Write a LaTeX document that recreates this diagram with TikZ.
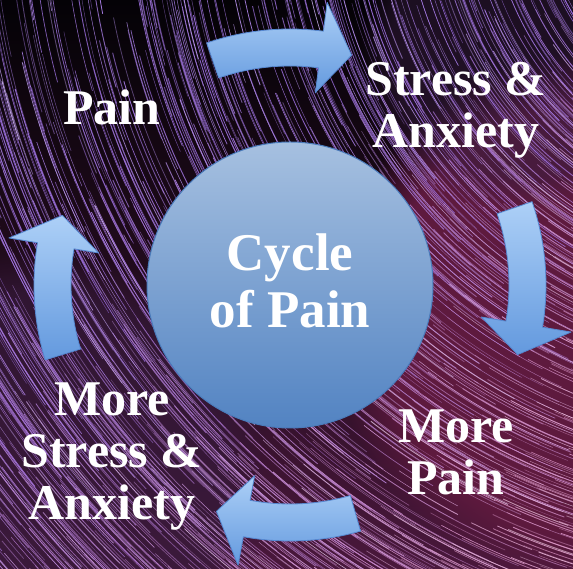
\documentclass[tikz,border=0pt]{standalone}
\usepackage{fontspec}
\setmainfont{Liberation Serif}
\usetikzlibrary{fadings}
\definecolor{violS}{HTML}{9466D6}
\definecolor{pinkS}{HTML}{D488BC}
\definecolor{bgTop}{HTML}{040206}
\definecolor{bgBot}{HTML}{4A183C}
\definecolor{glowM}{HTML}{5E1A3E}
\definecolor{arrT}{HTML}{ADD0F7}
\definecolor{arrB}{HTML}{6399DE}
\definecolor{arrE}{HTML}{5587D0}
\definecolor{cirT}{HTML}{A6C0E0}
\definecolor{cirB}{HTML}{5283C2}
\definecolor{cirE}{HTML}{4A7BBB}
\tikzset{
  lbl/.style={text=white, font=\bfseries\fontsize{50pt}{52pt}\selectfont, align=center, inner sep=0pt},
  cyctext/.style={text=white, font=\bfseries\fontsize{53pt}{57pt}\selectfont, align=center, inner sep=0pt},
  cycarrow/.style={top color=arrT, bottom color=arrB, draw=arrE, line width=0.8pt, line join=round},
  hub/.style={circle, minimum size=286pt, inner sep=0pt, top color=cirT, bottom color=cirB, draw=cirE, line width=1pt}
}
\newcommand\cyclearrow[2]{%
  \pgfmathsetmacro\hb{#2+7.5}%
  \shadedraw[cycarrow] (#1:256) arc[start angle=#1, end angle=\hb, radius=256]
    -- (\hb:285) -- (#2:238) -- (\hb:194) -- (\hb:219)
    arc[start angle=\hb, end angle=#1, radius=219] -- cycle;
}
\begin{document}
\begin{tikzpicture}[x=1pt,y=1pt]
\useasboundingbox (0,0) rectangle (573,569);
\begin{scope}
  \clip (0,0) rectangle (573,569);
  \fill[bgTop] (0,0) rectangle (573,569);
  \shade[shading angle=45, top color=bgTop, bottom color=bgBot, middle color=bgBot!45!bgTop] (0,0) rectangle (573,569);
  \fill[glowM, path fading=circle with fuzzy edge 20 percent] (600,250) circle (270);
  \fill[violS!30!bgBot!55!black, path fading=circle with fuzzy edge 20 percent, opacity=0.7] (40,90) circle (230);
  \fill[violS!40!bgBot!50!black, path fading=circle with fuzzy edge 20 percent, opacity=0.5] (520,520) circle (160);
  \pgfmathsetseed{4242}
  \begin{scope}[shift={(790,684)}]
  \foreach \i in {1,...,1900}{
    \pgfmathsetmacro\rr{100*sqrt(5.29+rnd*107.07)}
    \pgfmathsetmacro\aa{182+76*rnd}
    \pgfmathsetmacro\da{(40+220*rnd)/\rr*57.3}
    \pgfmathtruncatemacro\m{max(0,min(100,(\aa-200)/45*100))}
    \pgfmathtruncatemacro\w{(50+0.4*\m)*rnd*rnd*rnd+8*rnd}
    \pgfmathsetmacro\lw{0.35+0.6*rnd}
    \pgfmathsetmacro\op{0.45+0.55*rnd}
    \colorlet{sc}{pinkS!\m!violS}
    \draw[line width=\lw pt, draw=white!\w!sc, opacity=\op] (\aa:\rr) arc[start angle=\aa, delta angle=\da, radius=\rr];
  }
  \end{scope}
\end{scope}

\node[hub] (cyc) at (290,284) {};
\node[cyctext] (cyctxt) at ([yshift=4pt]cyc.center) {Cycle\\of Pain};

\begin{scope}[shift={(cyc.center)}]
  \cyclearrow{109}{75}
  \cyclearrow{19}{-17}
  \cyclearrow{286}{252}
  \cyclearrow{197}{163}
\end{scope}

\node[lbl, anchor=base] (pain) at (112,444) {Pain};
\node[lbl, anchor=base] (stress) at (456,421) {Stress \&\\Anxiety};
\node[lbl, anchor=base] (morepain) at (456,74) {More\\Pain};
\node[lbl, anchor=base] (morestress) at (112,49) {More\\Stress \&\\Anxiety};
\end{tikzpicture}
\end{document}
